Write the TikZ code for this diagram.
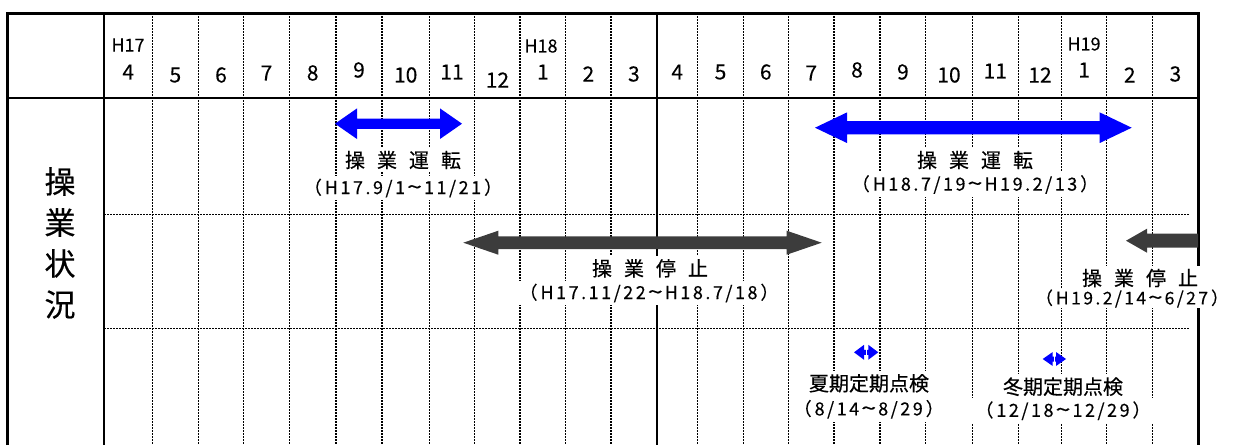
\documentclass[tikz,border=0pt]{standalone}
\usepackage{fontspec}
\setmainfont{Noto Sans CJK JP}
\newfontfamily\jp[FakeBold=0.4]{Noto Sans CJK JP}
\newfontfamily\jphd[FakeBold=0.2]{Noto Sans CJK JP}
\newfontfamily\jpsp[LetterSpace=14,FakeBold=0.4]{Noto Sans CJK JP}
\newcommand\DArr[7]{\fill[#7] (#1,#3) -- ({#1+#6},{#3-#5}) -- ({#1+#6},{#3-#4}) -- ({#2-#6},{#3-#4}) -- ({#2-#6},{#3-#5}) -- (#2,#3) -- ({#2-#6},{#3+#5}) -- ({#2-#6},{#3+#4}) -- ({#1+#6},{#3+#4}) -- ({#1+#6},{#3+#5}) -- cycle;}
\newcommand\tld{\hspace{2pt}\scalebox{1.5}[1.1]{\textasciitilde}\hspace{2pt}}
\newcommand\lp{（\hspace{3pt}}
\newcommand\rp{\hspace{3pt}）}
\definecolor{arrblue}{RGB}{0,0,255}
\definecolor{arrgray}{RGB}{60,60,60}
\tikzset{
  griddot/.style={line width=1.5pt, dash pattern=on 1.5pt off 1.5pt, black},
  frame/.style={line width=3pt, black},
  inner/.style={line width=2pt, black},
  hdrnum/.style={font=\jphd\fontsize{21}{24}\selectfont, inner sep=0pt},
  hdryear/.style={font=\jphd\fontsize{18}{20}\selectfont, inner sep=0pt},
  lbl/.style={font=\jp\fontsize{20}{24}\selectfont, fill=white, inner sep=3pt},
  par/.style={font=\jpsp\fontsize{18}{20}\selectfont, fill=white, inner sep=3pt},
  side/.style={font=\jp\fontsize{31}{41}\selectfont, align=center, inner sep=0pt},
}
\begin{document}
\begin{tikzpicture}[x=1pt,y=-1pt]
\useasboundingbox (0,0) rectangle (1233,445);
% grid
\foreach \x in {152.3,198.3,243.7,289.3,336,382,429.3,474.7,520,565.7,611,697.7,743.3,788.3,834,880,925.7,972.3,1018.3,1061.7,1106.7,1152.7}
  \draw[griddot] (\x,13) -- (\x,445);
\draw[griddot] (104,214.5) -- (1190,214.5);
\draw[griddot] (104,328.3) -- (1190,328.3);
\draw[inner] (656.7,13) -- (656.7,445);
% frame
\draw[frame] (7.5,445) -- (7.5,13) -- (1198,13) -- (1198,445);
\draw[inner] (7.5,98) -- (1198,98);
\draw[inner] (104,13) -- (104,445);
% header
\node[hdryear] (y17) at (128,45) {H17};
\node[hdryear] (y18) at (541,46) {H18};
\node[hdryear] (y19) at (1084,44) {H19};
\foreach \m/\x/\y [count=\i] in {4/128.2/72,5/175.3/75,6/221/75,7/266.5/73,8/312.7/73,9/359/70,10/405.7/75,11/452/72,12/497.4/80,1/542.9/72,2/588.4/74,3/633.9/74,4/677.2/72,5/720.5/72,6/765.8/72,7/811.2/73,8/857/70,9/902.9/72,10/949/75,11/995.3/71,12/1040/75,1/1084.2/70,2/1129.7/75,3/1175.4/74}
  \node[hdrnum] (m\i) at (\x,\y) {\m};
% side label
\node[side] (side) at (60,243) {操\\業\\状\\況};
% arrows
\DArr{335}{462}{123.7}{5.2}{15.3}{22}{arrblue}
\DArr{815}{1131.7}{127.7}{6.7}{15.3}{32}{arrblue}
\DArr{463.3}{821.7}{242.7}{6.3}{12}{35}{arrgray}
\fill[arrgray] (1126,240.7) -- (1147,228.7) -- (1147,233.7) -- (1198,233.7) -- (1198,247.7) -- (1147,247.7) -- (1147,252.7) -- cycle;
\DArr{854}{878.3}{352.3}{2.5}{7.5}{10}{arrblue}
\DArr{1042.7}{1066}{359}{2.5}{7}{10}{arrblue}
\draw[white,line width=0.8pt] (866.2,347) -- (866.2,358);
\draw[white,line width=0.8pt] (1054.4,354) -- (1054.4,364);
% labels
\node[lbl] (t1) at (403,160) {操\hspace{12pt}業\hspace{12pt}運\hspace{12pt}転};
\node[par] (d1) at (403,188) {\lp H17.9/1\tld 11/21\rp};
\node[lbl] (t2) at (975,160) {操\hspace{12pt}業\hspace{12pt}運\hspace{12pt}転};
\node[par] (d2) at (975,184.5) {\lp H18.7/19\tld H19.2/13\rp};
\node[lbl] (t3) at (650,268.3) {操\hspace{12pt}業\hspace{12pt}停\hspace{12pt}止};
\node[par] (d3) at (649,293) {\lp H17.11/22\tld H18.7/18\rp};
\node[lbl] (t4) at (1140,278) {操\hspace{12pt}業\hspace{12pt}停\hspace{12pt}止};
\node[par, inner sep=0.5pt, font=\jpsp\fontsize{17.5}{20}\selectfont] (d4) at (1132,298.5) {\lp H19.2/14\tld 6/27\rp};
\node[lbl] (t5) at (869,383.3) {夏期定期点検};
\node[par] (d5) at (868.7,409.3) {\lp 8/14\tld 8/29\rp};
\node[lbl] (t6) at (1063,386.7) {冬期定期点検};
\node[par] (d6) at (1063,410.7) {\lp 12/18\tld 12/29\rp};
\end{tikzpicture}
\end{document}
